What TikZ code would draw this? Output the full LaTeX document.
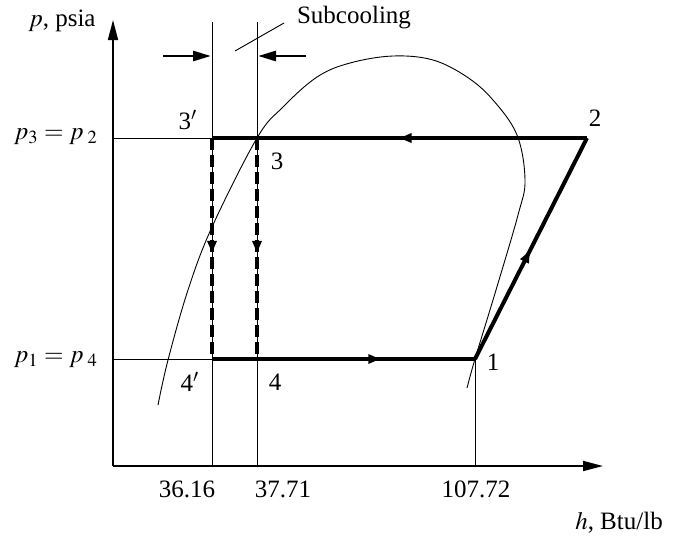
\documentclass[tikz,border=0pt]{standalone}
\usepackage{mathptmx}
\usepackage{fontspec}
\setmainfont{Liberation Serif}
\usetikzlibrary{arrows.meta,decorations.markings}

\begin{document}
\begin{tikzpicture}[
  x=0.5pt, y=-0.5pt,
  every node/.style={font=\fontsize{12.5}{15}\selectfont, inner sep=1pt},
  axis/.style    ={draw=black, line width=0.8pt,
                   -{Triangle[length=10pt,width=5pt]}},
  guide/.style   ={draw=black, line width=0.45pt},
  dome/.style    ={draw=black, line width=0.45pt},
  process/.style ={draw=black, line width=2pt, line join=miter},
  throttle/.style={draw=black, line width=2pt,
                   dash pattern=on 6pt off 2.5pt},
  gap/.style     ={draw=black, line width=1.4pt,
                   -{Triangle[length=9pt,width=5pt]}},
  midarrow/.style={postaction={decorate, decoration={markings,
                   mark=at position #1 with {\arrow{Triangle[length=6pt,width=4.5pt]}}}}}]

% picture units are pixels of the sheet, y running downwards
% ===========================  points  ================================
\useasboundingbox (0,0) rectangle (684,536);
\coordinate (O)    at (113,466);
\coordinate (ptop) at (113,20);
\coordinate (hend) at (603,466);

\coordinate (s1)  at (475,359);
\coordinate (s2)  at (587,138);
\coordinate (s3)  at (257,138);
\coordinate (s3p) at (212,138);
\coordinate (s4)  at (257,359);
\coordinate (s4p) at (212,359);

\coordinate (a3) at (113,138);
\coordinate (a1) at (113,359);
\coordinate (t3p) at (212,22);
\coordinate (t3)  at (257,22);
\coordinate (b3p) at (212,466);
\coordinate (b3)  at (257,466);
\coordinate (b1)  at (475,466);

% ======================  axes and guide lines  ======================
\draw[axis] (O) -- (ptop);
\draw[axis] (O) -- (hend);

\draw[guide] (a3) -- (s3p);
\draw[guide] (a1) -- (s4p);
\draw[guide] (t3p) -- (b3p);
\draw[guide] (t3) -- (b3);
\draw[guide] (s1) -- (b1);

% ==========================  saturation dome  ========================
\draw[dome] plot[smooth, tension=0.6] coordinates {
  (158,405) (168,360) (188,290) (212,227) (257,138) (283,107) (317,77)
  (350,63) (393,56) (433,60) (467,77) (493,100) (517,135) (525,180)
  (518,215) (496,290) (475,359) (467,388)};

% ===========================  the cycle  =============================
\draw[process, midarrow=0.5]  (s2) -- (s3p);
\draw[process, midarrow=0.64] (s4p) -- (s1);
\draw[process, midarrow=0.49] (s1) -- (s2);
\draw[throttle, midarrow=0.52] (s3p) -- (s4p);
\draw[throttle, midarrow=0.52] (s3) -- (s4);

% ===========================  subcooling  ============================
\coordinate (gl) at (163,56);
\coordinate (gr) at (306,56);
\draw[gap] (gl) -- (211,56);
\draw[gap] (gr) -- (258,56);
\node (sub) at (354,18) {Subcooling};
\coordinate (ld) at (235,51);
\draw[guide] (ld) -- (284,23);

% =============================  labels  ==============================
\node (plab)  at (62,21)   {$p$, psia};
\node (hlab)  at (619,523) {$h$, Btu/lb};
\node (p32)   at (56,137)  {$p_3 = p_{\;2}$};
\node (p14)   at (56,360)  {$p_1 = p_{\;4}$};
\node (n3p)   at (188,120) {3$'$};
\node (n3)    at (277,161) {3};
\node (n2)    at (595,118) {2};
\node (n1)    at (493,362) {1};
\node (n4p)   at (190,382) {4$'$};
\node (n4)    at (275,382) {4};
\node (hv3p)  at (187,489) {36.16};
\node (hv3)   at (283,489) {37.71};
\node (hv1)   at (476,489) {107.72};

\end{tikzpicture}
\end{document}
